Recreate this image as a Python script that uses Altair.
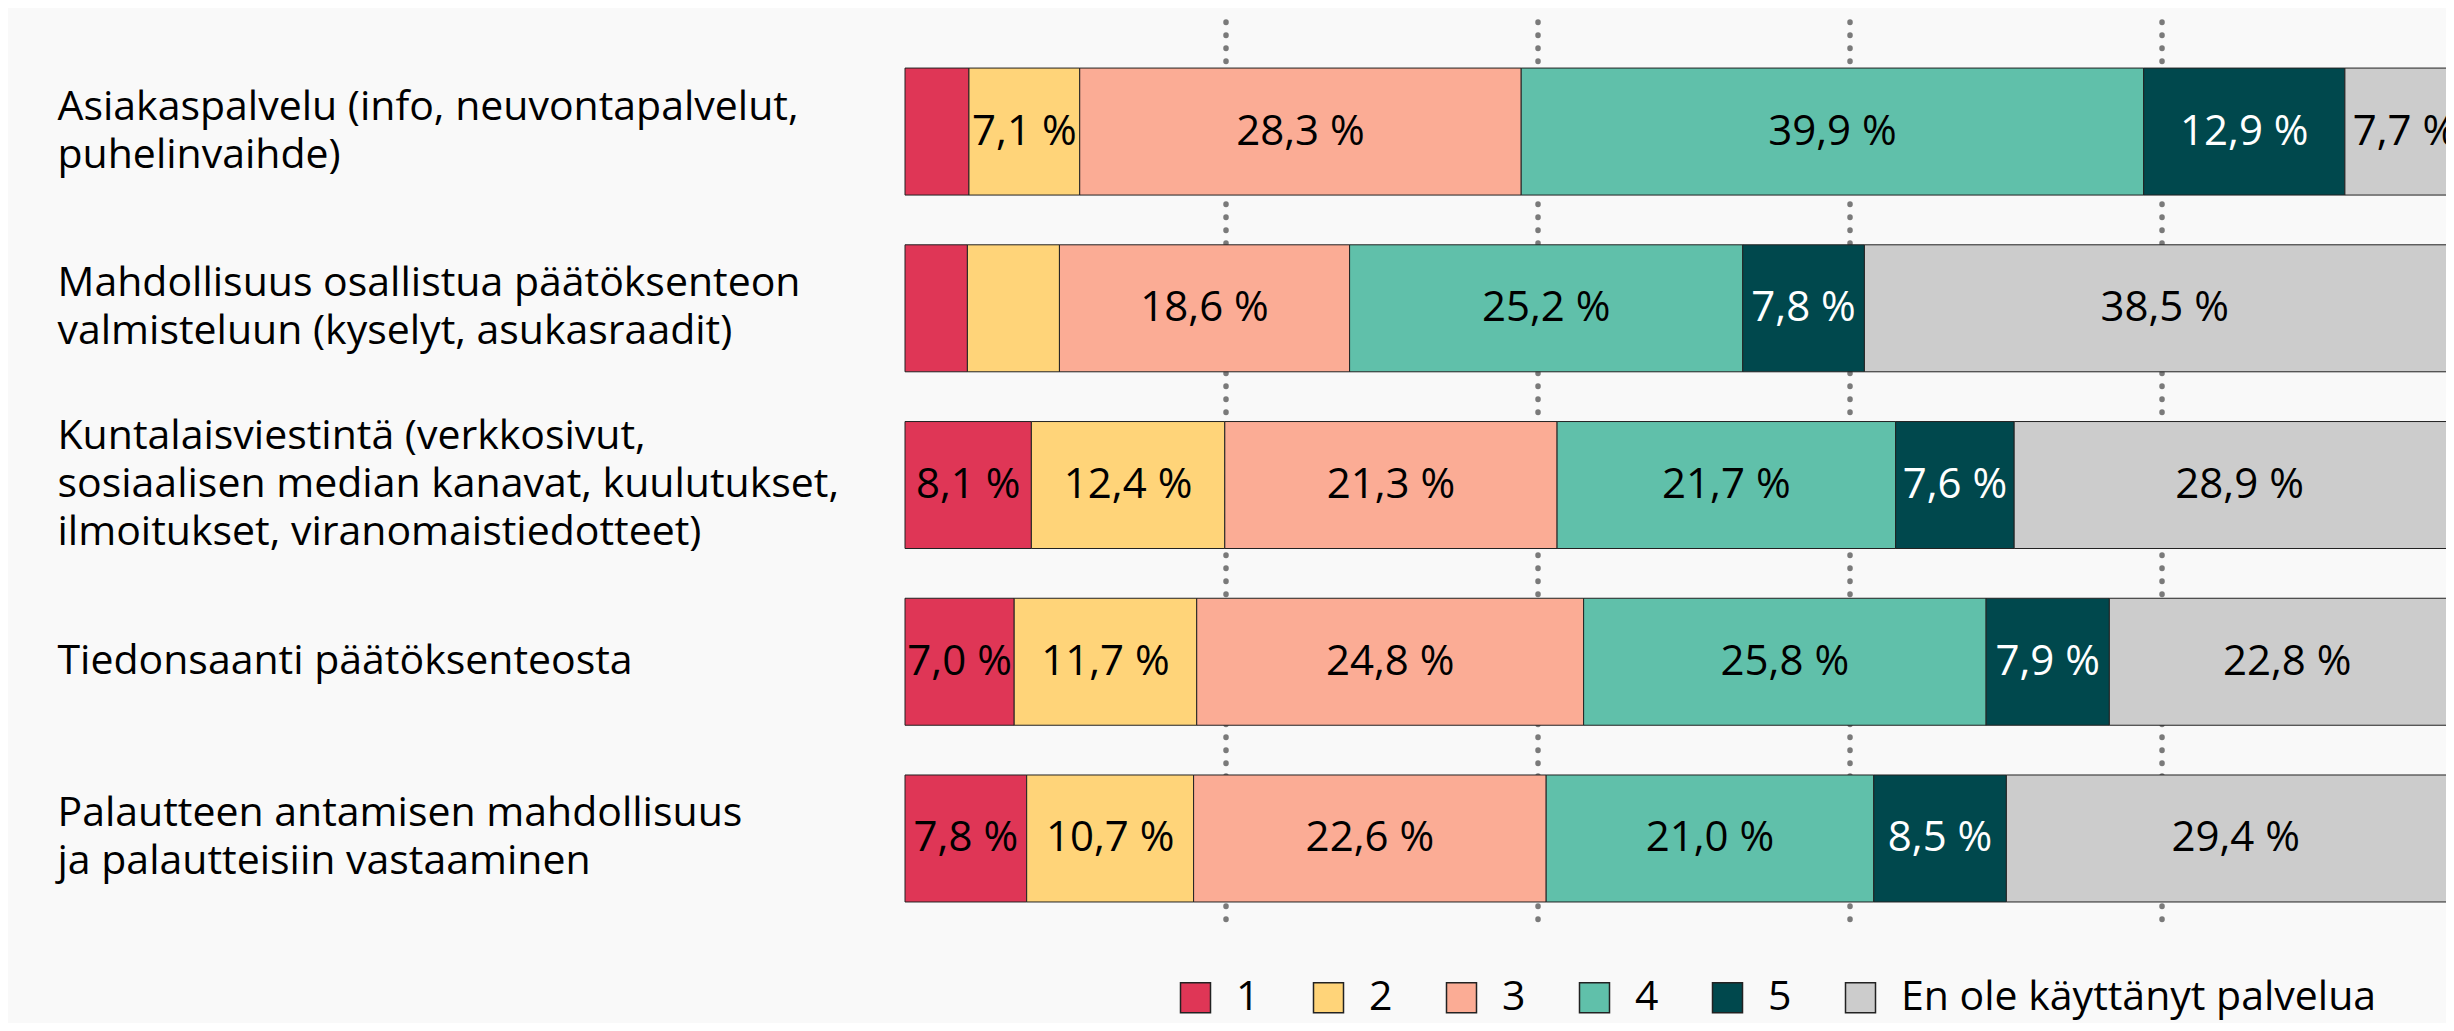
import altair as alt
import pandas as pd

categories = [
    "Asiakaspalvelu (info, neuvontapalvelut,|puhelinvaihde)",
    "Mahdollisuus osallistua päätöksenteon|valmisteluun (kyselyt, asukasraadit)",
    "Kuntalaisviestintä (verkkosivut,|sosiaalisen median kanavat, kuulutukset,|ilmoitukset, viranomaistiedotteet)",
    "Tiedonsaanti päätöksenteosta",
    "Palautteen antamisen mahdollisuus|\u00a0ja palautteisiin vastaaminen",
]
levels = ["1", "2", "3", "4", "5", "En ole käyttänyt palvelua"]
share_1 = [4.1, 4.0, 8.1, 7.0, 7.8]
share_2 = [7.1, 5.9, 12.4, 11.7, 10.7]
share_3 = [28.3, 18.6, 21.3, 24.8, 22.6]
share_4 = [39.9, 25.2, 21.7, 25.8, 21.0]
share_5 = [12.9, 7.8, 7.6, 7.9, 8.5]
share_none = [7.7, 38.5, 28.9, 22.8, 29.4]
colors = ["#DF3656", "#FFD479", "#FBAC95", "#60C0AA", "#00484D", "#CCCCCC"]
grid_values = [20, 40, 60, 80]

series = [share_1, share_2, share_3, share_4, share_5, share_none]
rows = []
for i, cat in enumerate(categories):
    for j, lvl in enumerate(levels):
        rows.append({"cat": cat, "level": lvl, "order": j, "value": series[j][i]})
df = pd.DataFrame(rows)

FONT = "Open Sans"
LINE_H = 48
xscale = alt.Scale(domain=[0, 98.78], nice=False, zero=False)
yscale = alt.Scale(type="band", paddingInner=0.2815, paddingOuter=0.204, align=0.639)

base = alt.Chart(df).transform_stack(
    stack="value", groupby=["cat"], sort=[alt.SortField("order")], as_=["x0", "x1"]
).transform_calculate(
    mid="(datum.x0 + datum.x1) / 2",
    label="replace(format(datum.value, '.1f'), '.', ',') + ' %'",
)

yaxis = alt.Axis(
    labelAlign="left", labelPadding=848, ticks=False, tickSize=0, domain=False,
    labelLimit=0, labelFont=FONT, labelFontSize=41, labelLineHeight=LINE_H,
    labelColor="black", labelExpr="split(datum.label, '|')", labelBaseline="middle",
    labelOffset={
        "condition": [
            {"test": "length(split(datum.value, '|')) == 3", "value": -LINE_H},
            {"test": "length(split(datum.value, '|')) == 2", "value": -LINE_H / 2},
        ],
        "value": 0,
    },
    grid=False, title=None,
)

bars = base.mark_bar(stroke="#222222", strokeWidth=1).encode(
    x=alt.X("x0:Q", scale=xscale, axis=None),
    x2="x1:Q",
    y=alt.Y("cat:N", sort=categories, scale=yscale, axis=yaxis),
    color=alt.Color(
        "level:N",
        scale=alt.Scale(domain=levels, range=colors),
        legend=alt.Legend(
            title=None, orient="none", legendX=270, legendY=955,
            direction="horizontal", symbolType="square", symbolSize=900,
            symbolStrokeColor="#222222", symbolStrokeWidth=1.5,
            labelFont=FONT, labelFontSize=41, labelColor="black", labelLimit=0,
            labelOffset=20, columnPadding=48, padding=0, symbolOpacity=1,
        ),
    ),
    order=alt.Order("order:Q"),
)

text = base.transform_filter("datum.value >= 7").mark_text(
    font=FONT, fontSize=42, baseline="middle", align="center"
).encode(
    x=alt.X("mid:Q", scale=xscale, axis=None),
    y=alt.Y("cat:N", sort=categories, scale=yscale, axis=yaxis),
    text="label:N",
    color=alt.condition("datum.level == '5'", alt.value("white"), alt.value("black")),
)

grid = alt.Chart(pd.DataFrame({"g": grid_values})).mark_rule(
    xOffset=9, strokeWidth=5.5, strokeDash=[0.5, 12.5], strokeCap="round", color="#7a7a7a"
).encode(x=alt.X("g:Q", scale=xscale, axis=None))

chart = alt.layer(grid, bars, text).properties(
    width=1541, height=906,
    autosize=alt.AutoSizeParams(type="none"),
    padding={"left": 897, "top": 14, "right": 0, "bottom": 95},
    background="#F9F9F9",
).configure_view(stroke=None)

chart.save("out.html", embed_options={"renderer": "svg", "actions": False})
